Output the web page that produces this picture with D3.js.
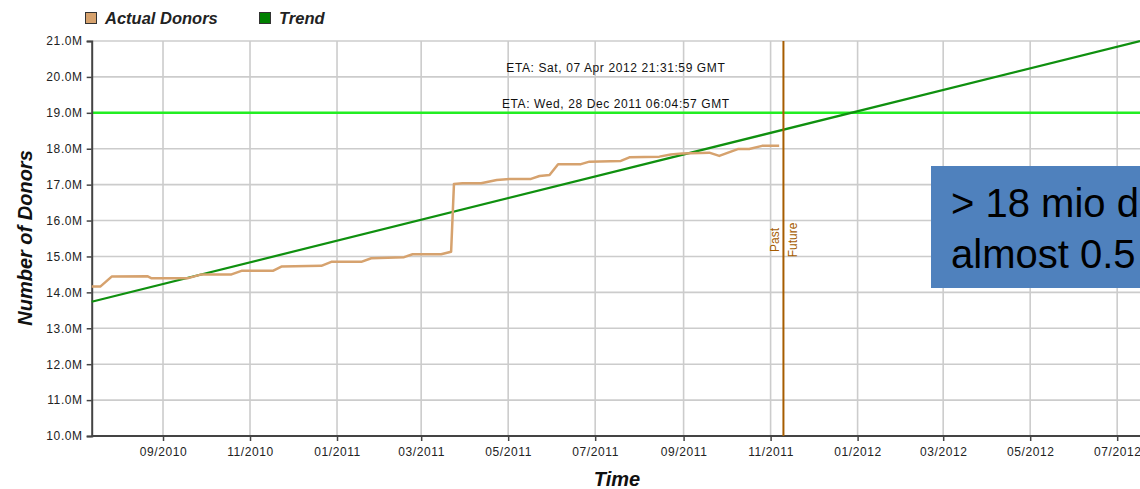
<!DOCTYPE html>
<html>
<head>
<meta charset="utf-8">
<script src="https://cdn.jsdelivr.net/npm/d3@7"></script>
<style>
  html, body { margin: 0; padding: 0; background: #fff; }
  svg { display: block; }
  text { font-family: "Liberation Sans", Arial, sans-serif; }
</style>
</head>
<body>
<svg id="chart" width="1140" height="489"></svg>
<script>
// ---- data ----
const actualDates = ["2010-07-13","2010-07-19","2010-07-27","2010-08-21","2010-08-24","2010-09-18","2010-09-28","2010-10-19","2010-10-26","2010-11-17","2010-11-23","2010-12-21","2010-12-28","2011-01-18","2011-01-25","2011-02-17","2011-02-23","2011-03-15","2011-03-22","2011-03-24","2011-03-30","2011-04-12","2011-04-23","2011-05-02","2011-05-17","2011-05-23","2011-05-30","2011-06-05","2011-06-21","2011-06-27","2011-07-19","2011-07-25","2011-08-15","2011-08-23","2011-08-31","2011-09-19","2011-09-26","2011-10-09","2011-10-17","2011-10-26","2011-11-07"];
const actualDonors = [14.16,14.16,14.44,14.45,14.39,14.39,14.50,14.50,14.60,14.60,14.72,14.74,14.85,14.85,14.95,14.98,15.06,15.06,15.13,17.02,17.04,17.04,17.13,17.16,17.16,17.24,17.27,17.57,17.57,17.64,17.66,17.76,17.78,17.84,17.87,17.89,17.80,17.99,17.99,18.08,18.08];
const trendDates = ["2010-07-13","2012-07-17"];
const trendValues = [13.74,21.0];
const yTicks = [10,11,12,13,14,15,16,17,18,19,20,21];
const xTickDates = ["2010-09-01","2010-11-01","2011-01-01","2011-03-01","2011-05-01","2011-07-01","2011-09-01","2011-11-01","2012-01-01","2012-03-01","2012-05-01","2012-07-01"];
const targetValue = 19;
const nowDate = "2011-11-10";
const etaLabels = [
  {value: 20, text: "ETA: Sat, 07 Apr 2012 21:31:59 GMT"},
  {value: 19, text: "ETA: Wed, 28 Dec 2011 06:04:57 GMT"}
];
const seriesNames = ["Actual Donors", "Trend"];
const boxLines = ["> 18 mio donors", "almost 0.5 mio per month"];

// ---- setup ----
const parse = d3.utcParse("%Y-%m-%d");
const svg = d3.select("#chart");
const mLeft = 91.7, mRight = 1140, mTop = 41, mBottom = 436;

const x = d3.scaleUtc().domain([parse("2010-07-13"), parse("2012-07-17")]).range([mLeft, mRight]);
const y = d3.scaleLinear().domain([10, 21]).range([mBottom, mTop]);

const actual = actualDates.map((d, i) => ({date: parse(d), value: actualDonors[i]}));
const trend = trendDates.map((d, i) => ({date: parse(d), value: trendValues[i]}));
const xTicks = xTickDates.map(parse);

// grid
const grid = svg.append("g");
grid.selectAll("line.h").data(yTicks).join("line")
  .attr("x1", mLeft).attr("x2", mRight)
  .attr("y1", d => y(d)).attr("y2", d => y(d))
  .attr("stroke", "#cccccc").attr("stroke-width", 1.6);
grid.selectAll("line.v").data(xTicks).join("line")
  .attr("x1", d => x(d)).attr("x2", d => x(d))
  .attr("y1", mTop).attr("y2", mBottom)
  .attr("stroke", "#cccccc").attr("stroke-width", 1.6);

// target line
svg.append("line")
  .attr("x1", mLeft).attr("x2", mRight)
  .attr("y1", y(targetValue)).attr("y2", y(targetValue))
  .attr("stroke", "#22ee22").attr("stroke-width", 2.5);

// ETA labels
svg.selectAll("text.eta").data(etaLabels).join("text")
  .attr("x", (mLeft + mRight) / 2).attr("y", d => y(d.value) - 5)
  .attr("text-anchor", "middle")
  .attr("font-size", 12).attr("letter-spacing", 0.6)
  .attr("fill", "#111")
  .text(d => d.text);

// axes
const yAxis = svg.append("g").attr("transform", `translate(${mLeft},0)`)
  .call(d3.axisLeft(y).tickValues(yTicks).tickSize(5).tickPadding(4).tickFormat(d => d.toFixed(1) + "M"));
const xAxis = svg.append("g").attr("transform", `translate(0,${mBottom})`)
  .call(d3.axisBottom(x).tickValues(xTicks).tickSize(5).tickPadding(6).tickFormat(d3.utcFormat("%m/%Y")));
[yAxis, xAxis].forEach(g => {
  g.select(".domain").attr("stroke", "#444").attr("stroke-width", 2);
  g.selectAll(".tick line").attr("stroke", "#444").attr("stroke-width", 1.5);
  g.selectAll(".tick text").attr("font-size", 12).attr("letter-spacing", 0.6).attr("fill", "#222")
    .style("font-family", '"Liberation Sans", Arial, sans-serif');
});
xAxis.select(".domain").attr("d", `M${mLeft},0H${mRight}`);

// trend line
const line = d3.line().x(d => x(d.date)).y(d => y(d.value));
svg.append("path").datum(trend)
  .attr("d", line).attr("fill", "none")
  .attr("stroke", "#0f900f").attr("stroke-width", 2.2);

// actual donors
svg.append("path").datum(actual)
  .attr("d", line).attr("fill", "none")
  .attr("stroke", "#d6a26e").attr("stroke-width", 2.5)
  .attr("stroke-linejoin", "round");

// past/future line
const nx = x(parse(nowDate));
svg.append("line")
  .attr("x1", nx).attr("x2", nx).attr("y1", mTop).attr("y2", mBottom)
  .attr("stroke", "#a65c00").attr("stroke-width", 2);
svg.append("text")
  .attr("transform", `translate(${nx - 4},240) rotate(-90)`)
  .attr("text-anchor", "middle").attr("font-size", 12).attr("fill", "#a65c00")
  .text("Past");
svg.append("text")
  .attr("transform", `translate(${nx + 14},240) rotate(-90)`)
  .attr("text-anchor", "middle").attr("font-size", 12).attr("fill", "#a65c00")
  .text("Future");

// axis titles
svg.append("text")
  .attr("transform", "translate(32,238) rotate(-90)")
  .attr("text-anchor", "middle")
  .attr("font-size", 20).attr("font-weight", "bold").attr("font-style", "italic")
  .attr("fill", "#111")
  .text("Number of Donors");
svg.append("text")
  .attr("x", 617).attr("y", 486)
  .attr("text-anchor", "middle")
  .attr("font-size", 20).attr("font-weight", "bold").attr("font-style", "italic")
  .attr("fill", "#111")
  .text("Time");

// legend
const legendColors = ["#d6a26e", "#008000"];
const legendX = [85, 259];
const lg = svg.append("g");
seriesNames.forEach((name, i) => {
  lg.append("rect").attr("x", legendX[i] + 0.5).attr("y", 12.5).attr("width", 11).attr("height", 11)
    .attr("fill", legendColors[i]).attr("stroke", "#333").attr("stroke-width", 1);
  lg.append("text").attr("x", legendX[i] + 20).attr("y", 24)
    .attr("font-size", 16.5).attr("font-weight", "bold").attr("font-style", "italic")
    .attr("fill", "#222")
    .text(name);
});

// annotation box
svg.append("rect").attr("x", 931).attr("y", 166).attr("width", 260).attr("height", 122)
  .attr("fill", "#4f81bd");
svg.selectAll("text.box").data(boxLines).join("text")
  .attr("x", 951).attr("y", (d, i) => 217 + i * 51)
  .attr("font-size", 40).attr("fill", "#000")
  .style("font-family", 'Arial, "Liberation Sans", sans-serif')
  .text(d => d);
</script>
</body>
</html>
